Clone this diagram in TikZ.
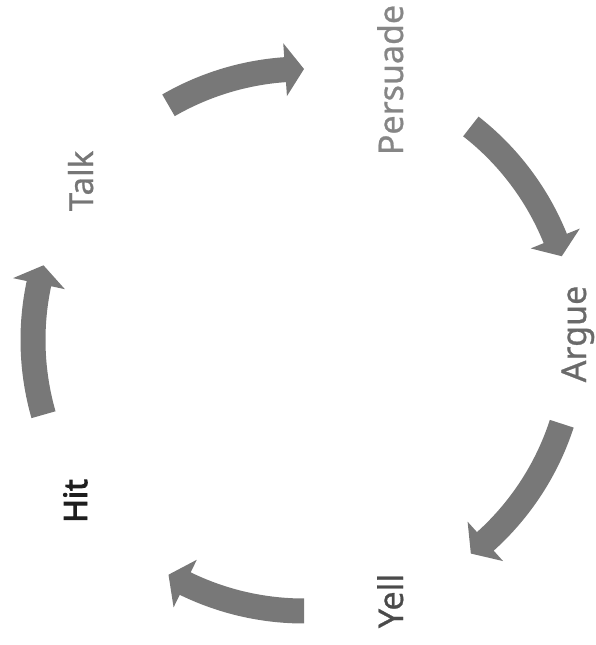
\documentclass[tikz,border=0pt]{standalone}
\usepackage{fontspec}
\setmainfont{Noto Sans}
\newfontfamily\lblfont{Noto Sans}[FakeBold=0.8]
\newfontfamily\hitfont{Noto Sans}[FakeBold=3]
\definecolor{arrowgray}{HTML}{787878}
\definecolor{persgray}{HTML}{868686}
\definecolor{talkgray}{HTML}{767676}
\definecolor{arguegray}{HTML}{6A6A6A}
\definecolor{yellgray}{HTML}{4A4A4A}
\definecolor{hitgray}{HTML}{1E1E1E}
\newcommand\cyclearrow[3]{%
  \fill[arrowgray, shift={(C)}] (#1:258.5) arc[start angle=#1, end angle=#2, radius=258.5]
    -- (#2:244.5) -- (#3:271) -- (#2:297.5) -- (#2:283.5)
    arc[start angle=#2, end angle=#1, radius=283.5] -- cycle;}
\begin{document}
\begin{tikzpicture}[x=1pt,y=1pt,
  lbl/.style={rotate=90, anchor=base, inner sep=0pt, font=\lblfont\fontsize{34}{40}\selectfont}]
\useasboundingbox (0,0) rectangle (596,645);
\coordinate (C) at (304,305);
% arrows
\cyclearrow{120}{94}{90}
\cyclearrow{52}{22}{18}
\cyclearrow{-18}{-48}{-52}
\cyclearrow{-90}{-116}{-120}
\cyclearrow{196}{168}{164}
% labels
\node[lbl, text=persgray] (persuade) at (403,565) {Persuade};
\node[lbl, text=talkgray, font=\lblfont\fontsize{33}{39}\selectfont] (talk) at (93,464) {Talk};
\node[lbl, text=arguegray] (argue) at (586,311) {Argue};
\node[lbl, text=yellgray] (yell) at (403,44) {Yell};
\node[lbl, text=hitgray, font=\hitfont\fontsize{32}{38}\selectfont] (hit) at (87,144) {Hit};
\end{tikzpicture}
\end{document}
